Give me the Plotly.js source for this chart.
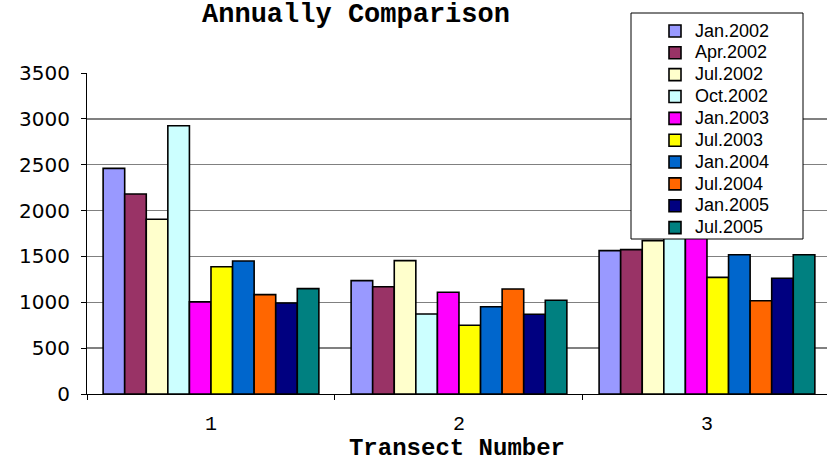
<!DOCTYPE html>
<html>
<head>
<meta charset="utf-8">
<script src="https://cdn.plot.ly/plotly-3.0.1.min.js"></script>
<style>
  html, body { margin: 0; padding: 0; background: #fff; }
  #chart { width: 827px; height: 462px; }
</style>
</head>
<body>
<div id="chart"></div>
<script>
// ---- data ----
const categories = ['1', '2', '3'];
const seriesNames = ['Jan.2002', 'Apr.2002', 'Jul.2002', 'Oct.2002', 'Jan.2003',
                     'Jul.2003', 'Jan.2004', 'Jul.2004', 'Jan.2005', 'Jul.2005'];
const jan2002 = [2460, 1236, 1563];
const apr2002 = [2180, 1170, 1574];
const jul2002 = [1905, 1454, 1672];
const oct2002 = [2925, 872, 1760];
const jan2003 = [1005, 1109, 1830];
const jul2003 = [1388, 749, 1272];
const jan2004 = [1450, 952, 1519];
const jul2004 = [1083, 1145, 1017];
const jan2005 = [992, 869, 1262];
const jul2005 = [1149, 1022, 1519];
const seriesValues = [jan2002, apr2002, jul2002, oct2002, jan2003,
                      jul2003, jan2004, jul2004, jan2005, jul2005];
const yTickValues = [0, 500, 1000, 1500, 2000, 2500, 3000, 3500];

// ---- styles ----
const colors = ['#9999FF', '#993366', '#FFFFCC', '#CCFFFF', '#FF00FF',
                '#FFFF00', '#0066CC', '#FF6600', '#000080', '#008080'];

const traces = seriesNames.map((name, i) => ({
  type: 'bar',
  name: '<span style="font-size:18px">' + name + '</span>',
  x: categories,
  y: seriesValues[i],
  marker: { color: colors[i], line: { color: '#000', width: 1.6 } },
  hoverinfo: 'none'
}));

const W = 827, H = 462, L = 87, R = 0, T = 73, B = 68;
const pw = W - L - R, ph = H - T - B;
const px = v => (v - L) / pw;
const py = v => (H - B - v) / ph;

const layout = {
  width: W, height: H,
  margin: { l: L, r: R, t: T, b: B, pad: 0 },
  paper_bgcolor: '#fff',
  plot_bgcolor: '#fff',
  barmode: 'group',
  bargap: 0.13,
  bargroupgap: 0,
  title: {
    text: '<b>Annually Comparison</b>',
    font: { family: 'Liberation Mono, monospace', size: 27, color: '#000' },
    xref: 'paper', x: px(356), xanchor: 'center',
    yref: 'container', y: 1 - 13 / H, yanchor: 'middle'
  },
  xaxis: {
    type: 'category',
    range: [-0.5, 2.484],
    showline: true, linecolor: '#000', linewidth: 1,
    ticks: 'outside', tickson: 'boundaries', ticklen: 5, tickcolor: '#000', tickwidth: 1,
    tickfont: { family: 'Liberation Mono, monospace', size: 20, color: '#000' },
    ticklabelstandoff: 11,
    showgrid: false, zeroline: false,
    title: {
      text: '<b>Transect Number</b>',
      font: { family: 'Liberation Mono, monospace', size: 24, color: '#000' },
      standoff: 11
    }
  },
  yaxis: {
    range: [0, 3500],
    tickvals: yTickValues,
    showline: true, linecolor: '#000', linewidth: 1,
    ticks: 'outside', ticklen: 5, tickcolor: '#000', tickwidth: 1,
    tickfont: { family: 'DejaVu Sans, sans-serif', size: 20, color: '#000' },
    ticklabelstandoff: 7,
    showgrid: true, gridcolor: '#808080', gridwidth: 1.5,
    zeroline: false
  },
  showlegend: true,
  legend: {
    x: px(655), xanchor: 'left', xref: 'paper',
    y: py(15), yanchor: 'top', yref: 'paper',
    bgcolor: 'rgba(0,0,0,0)', borderwidth: 0,
    font: { family: 'Liberation Sans, Arial, sans-serif', size: 14.5, color: '#000' },
    traceorder: 'normal',
    itemclick: false, itemdoubleclick: false
  },
  shapes: [{
    type: 'rect', xref: 'paper', yref: 'paper', layer: 'above',
    x0: px(631), x1: px(803), y0: py(239), y1: py(13),
    fillcolor: '#fff', line: { color: '#000', width: 1 }
  }]
};

Plotly.newPlot('chart', traces, layout, { staticPlot: true, displayModeBar: false });
</script>
</body>
</html>
